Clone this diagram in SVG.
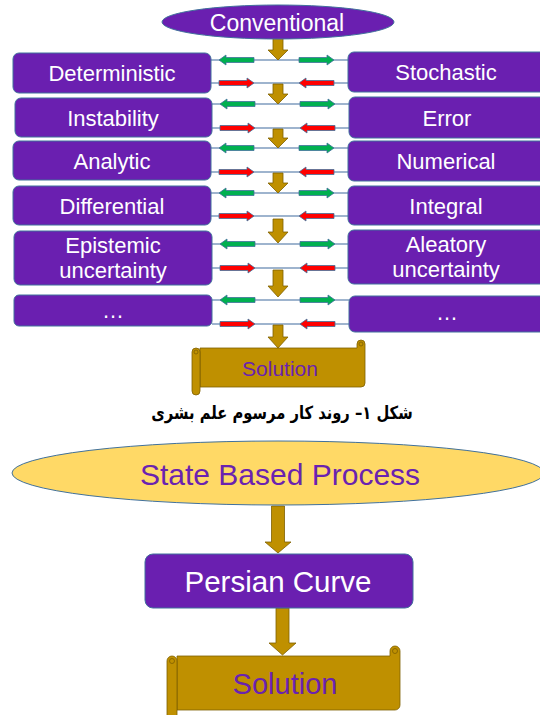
<svg xmlns="http://www.w3.org/2000/svg" xmlns:xlink="http://www.w3.org/1999/xlink" width="540" height="715" viewBox="0 0 540 715">
<style>
.box{fill:#6a1fb0;stroke:#41719c;stroke-width:1}
.lbl{font-family:"Liberation Sans",Arial,sans-serif;font-size:22px;fill:#ffffff;text-anchor:middle}
.ln{stroke:#7f9cbf;stroke-width:1.5;fill:none}
.grn{fill:#00b050;stroke:#41719c;stroke-width:0.8}
.red{fill:#ff0000;stroke:#41719c;stroke-width:0.8}
.brn{fill:#bf9000;stroke:#7f6000;stroke-width:0.8}
.sol{font-family:"Liberation Sans",Arial,sans-serif;fill:#6a22b0;text-anchor:middle}
</style>
<defs>
<path id="ha" d="M0,-2.5 H28 V-5 L35,0 L28,5 V2.5 H0 Z"/>
</defs>
<rect width="540" height="715" fill="#ffffff"/>

<g id="connectors">
  <path class="ln" d="M211,60 H348 M211,83 H348 M212,104 H349 M212,128 H349 M211,148 H348 M211,172 H348 M211,193 H348 M211,216 H348 M212,244 H348 M212,268 H348 M212,300 H349 M212,324 H349"/>
  <g class="grn">
    <use xlink:href="#ha" transform="translate(254,60) scale(-1,1)"/><use xlink:href="#ha" transform="translate(299,60)"/>
    <use xlink:href="#ha" transform="translate(255,104) scale(-1,1)"/><use xlink:href="#ha" transform="translate(300,104)"/>
    <use xlink:href="#ha" transform="translate(254,148) scale(-1,1)"/><use xlink:href="#ha" transform="translate(299,148)"/>
    <use xlink:href="#ha" transform="translate(254,193) scale(-1,1)"/><use xlink:href="#ha" transform="translate(299,193)"/>
    <use xlink:href="#ha" transform="translate(255,244) scale(-1,1)"/><use xlink:href="#ha" transform="translate(300,244)"/>
    <use xlink:href="#ha" transform="translate(255,300) scale(-1,1)"/><use xlink:href="#ha" transform="translate(300,300)"/>
  </g>
  <g class="red">
    <use xlink:href="#ha" transform="translate(219,83)"/><use xlink:href="#ha" transform="translate(334,83) scale(-1,1)"/>
    <use xlink:href="#ha" transform="translate(220,128)"/><use xlink:href="#ha" transform="translate(335,128) scale(-1,1)"/>
    <use xlink:href="#ha" transform="translate(219,172)"/><use xlink:href="#ha" transform="translate(334,172) scale(-1,1)"/>
    <use xlink:href="#ha" transform="translate(219,216)"/><use xlink:href="#ha" transform="translate(334,216) scale(-1,1)"/>
    <use xlink:href="#ha" transform="translate(220,268)"/><use xlink:href="#ha" transform="translate(335,268) scale(-1,1)"/>
    <use xlink:href="#ha" transform="translate(220,324)"/><use xlink:href="#ha" transform="translate(335,324) scale(-1,1)"/>
  </g>
  <g class="brn">
    <path d="M273,38 H283 V50 H288 L278,60 L268,50 H273 Z"/>
    <path d="M273,84 H283 V94 H288 L278,104 L268,94 H273 Z"/>
    <path d="M273,129 H283 V138 H288 L278,148 L268,138 H273 Z"/>
    <path d="M273,173 H283 V183 H288 L278,193 L268,183 H273 Z"/>
    <path d="M273,219 H283 V232 H288 L278,243 L268,232 H273 Z"/>
    <path d="M273,270 H283 V286 H288 L278,297 L268,286 H273 Z"/>
    <path d="M273,325 H283 V337 H288 L278,348 L268,337 H273 Z"/>
    <path d="M271.5,506 H284.5 V542 H291 L278,553 L265,542 H271.5 Z"/>
    <path d="M276,608 H289 V643 H296 L282.5,655 L269,643 H276 Z"/>
  </g>
</g>

<g id="conventional">
  <ellipse cx="278" cy="22" rx="116" ry="17" class="box"/>
  <text x="277" y="31" class="lbl" style="font-size:23px">Conventional</text>
</g>

<g id="deterministic"><rect x="13" y="53" width="198" height="40" rx="6" class="box"/><text x="112" y="81" class="lbl">Deterministic</text></g>
<g id="instability"><rect x="15" y="98" width="197" height="39" rx="6" class="box"/><text x="113" y="126" class="lbl">Instability</text></g>
<g id="analytic"><rect x="13" y="141" width="198" height="39" rx="6" class="box"/><text x="112" y="169" class="lbl">Analytic</text></g>
<g id="differential"><rect x="13" y="186" width="198" height="39" rx="6" class="box"/><text x="112" y="214" class="lbl">Differential</text></g>
<g id="epistemic"><rect x="14" y="231" width="198" height="54" rx="6" class="box"/><text x="113" y="253" class="lbl">Epistemic</text><text x="113" y="278" class="lbl">uncertainty</text></g>
<g id="etc-left"><rect x="14" y="295" width="198" height="31" rx="5" class="box"/><text x="113" y="318" class="lbl">…</text></g>

<g id="stochastic"><rect x="348" y="52" width="200" height="40" rx="6" class="box"/><text x="446" y="80" class="lbl">Stochastic</text></g>
<g id="error"><rect x="349" y="97" width="200" height="41" rx="6" class="box"/><text x="447" y="126" class="lbl">Error</text></g>
<g id="numerical"><rect x="348" y="141" width="200" height="40" rx="6" class="box"/><text x="446" y="169" class="lbl">Numerical</text></g>
<g id="integral"><rect x="348" y="186" width="200" height="39" rx="6" class="box"/><text x="446" y="214" class="lbl">Integral</text></g>
<g id="aleatory"><rect x="348" y="230" width="200" height="54" rx="6" class="box"/><text x="446" y="252" class="lbl">Aleatory</text><text x="446" y="277" class="lbl">uncertainty</text></g>
<g id="etc-right"><rect x="349" y="296" width="200" height="36" rx="6" class="box"/><text x="447" y="320" class="lbl">…</text></g>

<g id="solution1">
  <path class="brn" d="M200,348 H357 V344 A4,4 0 0 1 365,344 V383 A4,4 0 0 1 361,387 H200 Z"/>
  <path class="brn" d="M192,352 A4,4 0 0 1 200,352 V391 A4,4 0 0 1 192,391 Z"/>
  <circle cx="361" cy="344" r="2" class="brn"/>
  <circle cx="196" cy="352" r="2" class="brn"/>
  <text x="280" y="376" class="sol" font-size="21">Solution</text>
</g>

<text transform="translate(282,419) scale(0.82,1)" x="0" y="0" font-family="'DejaVu Sans',sans-serif" font-weight="bold" font-size="18" text-anchor="middle" direction="rtl" fill="#000000">شکل ۱– روند کار مرسوم علم بشری</text>

<g id="state-based">
  <ellipse cx="278" cy="473" rx="266" ry="32" fill="#ffd966" stroke="#41719c" stroke-width="1"/>
  <text x="280" y="485" class="sol" font-size="30">State Based Process</text>
</g>

<g id="persian-curve">
  <rect x="145" y="554" width="268" height="54" rx="8" class="box"/>
  <text x="278" y="592" class="lbl" style="font-size:29.5px">Persian Curve</text>
</g>

<g id="solution2">
  <path class="brn" d="M177,656 H390 V651 A5,5 0 0 1 400,651 V705 A5,5 0 0 1 395,710 H177 Z"/>
  <path class="brn" d="M167,661 A5,5 0 0 1 177,661 V715 A5,5 0 0 1 167,715 Z"/>
  <circle cx="395" cy="651" r="2.5" class="brn"/>
  <circle cx="172" cy="661" r="2.5" class="brn"/>
  <text x="285" y="694" class="sol" font-size="29">Solution</text>
</g>
</svg>
